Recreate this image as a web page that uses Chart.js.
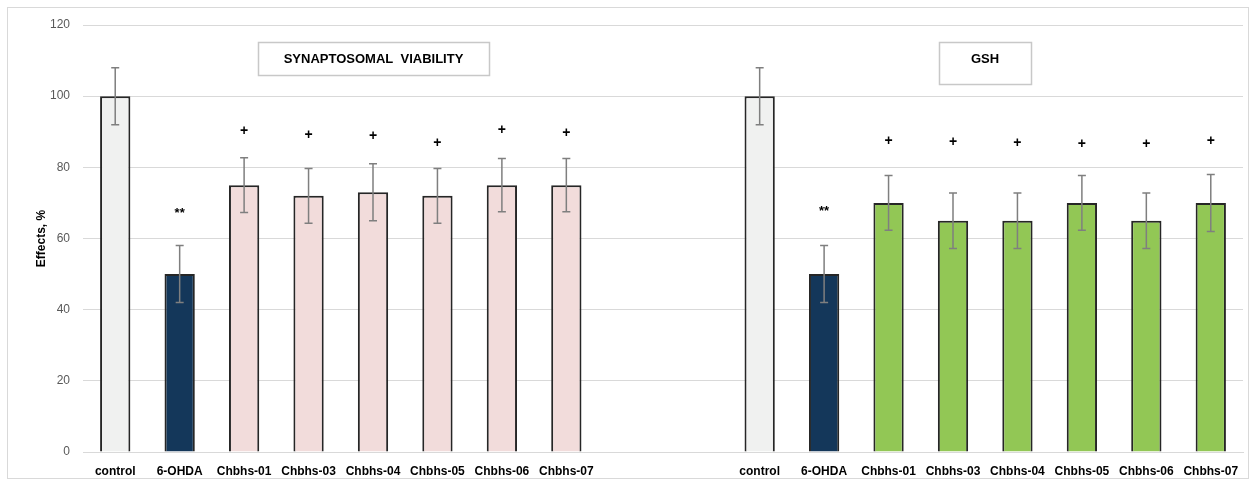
<!DOCTYPE html>
<html>
<head>
<meta charset="utf-8">
<script src="https://cdn.jsdelivr.net/npm/chart.js@4/dist/chart.umd.min.js"></script>
<style>
  html, body { margin: 0; padding: 0; background: #fff; }
  #wrap { width: 1256px; height: 486px; }
</style>
</head>
<body>
<div id="wrap"><canvas id="chart"></canvas></div>
<script>
// groups on the x axis (same for both panels)
const groups = ['control', '6-OHDA', 'Chbhs-01', 'Chbhs-03', 'Chbhs-04', 'Chbhs-05', 'Chbhs-06', 'Chbhs-07'];

// synaptosomal viability, % of control
const viabilityValues = [100, 50, 75, 72, 73, 72, 75, 75];
const viabilityErrors = [8, 8, 7.7, 7.7, 8, 7.7, 7.5, 7.5];
const viabilityMarks = ['', '**', '+', '+', '+', '+', '+', '+'];
const viabilityMarkAt = [null, 67, 90.2, 89, 88.8, 86.8, 90.5, 89.7];

// GSH, % of control
const gshValues = [100, 50, 70, 65, 65, 70, 65, 70];
const gshErrors = [8, 8, 7.7, 7.8, 7.8, 7.7, 7.8, 8];
const gshMarks = ['', '**', '+', '+', '+', '+', '+', '+'];
const gshMarkAt = [null, 67.7, 87.4, 87.1, 86.8, 86.5, 86.5, 87.4];

const yTicks = [0, 20, 40, 60, 80, 100, 120];
const panelTitles = ['SYNAPTOSOMAL  VIABILITY', 'GSH'];

const colControl = '#f0f1f0';
const colToxin = '#14375a';
const colViability = '#f2dcdb';
const colGsh = '#92c755';

// two empty slots separate the panels
const gap = ['', ''];
const labels = [...groups, ...gap, ...groups];
const values = [...viabilityValues, null, null, ...gshValues];
const errors = [...viabilityErrors, null, null, ...gshErrors];
const marks = [...viabilityMarks, '', '', ...gshMarks];
const markAt = [...viabilityMarkAt, null, null, ...gshMarkAt];

const colors = labels.map((g, i) => {
  if (g === 'control') return colControl;
  if (g === '6-OHDA') return colToxin;
  return i < groups.length ? colViability : colGsh;
});

const extras = {
  id: 'extras',
  beforeDraw(chart) {
    const ctx = chart.ctx;
    ctx.save();
    ctx.strokeStyle = '#d9d9d9';
    ctx.lineWidth = 1;
    ctx.strokeRect(7.5, 7.5, chart.width - 15, chart.height - 15);
    ctx.restore();
  },
  afterDatasetsDraw(chart) {
    const ctx = chart.ctx;
    const x = chart.scales.x, y = chart.scales.y;
    ctx.save();
    // error bars
    ctx.strokeStyle = '#7f7f7f';
    ctx.lineWidth = 1.5;
    values.forEach((v, i) => {
      if (v == null) return;
      const cx = x.getPixelForValue(i);
      const top = y.getPixelForValue(v + errors[i]);
      const bot = y.getPixelForValue(v - errors[i]);
      ctx.beginPath();
      ctx.moveTo(cx, top); ctx.lineTo(cx, bot);
      ctx.moveTo(cx - 4, top); ctx.lineTo(cx + 4, top);
      ctx.moveTo(cx - 4, bot); ctx.lineTo(cx + 4, bot);
      ctx.stroke();
    });
    // significance marks
    ctx.fillStyle = '#000';
    ctx.textAlign = 'center';
    ctx.textBaseline = 'middle';
    marks.forEach((m, i) => {
      if (!m) return;
      ctx.font = m === '+' ? 'bold 14px "Liberation Sans"' : 'bold 13px "Liberation Sans"';
      ctx.fillText(m, x.getPixelForValue(i), y.getPixelForValue(markAt[i]));
    });
    // panel title boxes
    const boxes = [
      { x: 258, y: 42, w: 231, h: 33 },
      { x: 939, y: 42, w: 92, h: 42 }
    ];
    ctx.font = 'bold 13px "Liberation Sans"';
    boxes.forEach((b, k) => {
      ctx.fillStyle = '#fff';
      ctx.fillRect(b.x, b.y, b.w, b.h);
      ctx.strokeStyle = '#c8c8c8';
      ctx.lineWidth = 1.5;
      ctx.strokeRect(b.x + 0.5, b.y + 0.5, b.w, b.h);
      ctx.fillStyle = '#000';
      ctx.fillText(panelTitles[k], b.x + b.w / 2, b.y + 17);
    });
    ctx.restore();
  }
};

new Chart(document.getElementById('chart'), {
  type: 'bar',
  data: {
    labels: labels,
    datasets: [{
      data: values,
      backgroundColor: colors,
      borderColor: '#262626',
      borderWidth: 2,
      categoryPercentage: 1,
      barPercentage: 0.47
    }]
  },
  options: {
    responsive: true,
    maintainAspectRatio: false,
    animation: false,
    layout: { padding: { left: 10, right: 13, top: 25, bottom: 6 } },
    plugins: { legend: { display: false }, tooltip: { enabled: false } },
    scales: {
      x: {
        grid: { display: false },
        border: { color: '#d9d9d9' },
        ticks: {
          color: '#000',
          font: { family: 'Liberation Sans', size: 12, weight: 'bold' },
          padding: 4,
          maxRotation: 0,
          autoSkip: false
        },
        afterFit(scale) { scale.height = 28; }
      },
      y: {
        min: 0,
        max: 120,
        afterBuildTicks(scale) { scale.ticks = yTicks.map(v => ({ value: v })); },
        grid: { color: '#d9d9d9', drawTicks: false },
        border: { display: false },
        ticks: {
          color: '#595959',
          font: { family: 'Liberation Sans', size: 12 },
          padding: 13
        },
        title: {
          display: true,
          text: 'Effects, %',
          color: '#000',
          font: { family: 'Liberation Sans', size: 12, weight: 'bold' },
          padding: { top: 24, bottom: 0 }
        },
        afterFit(scale) { scale.width = 73; }
      }
    }
  },
  plugins: [extras]
});
</script>
</body>
</html>
